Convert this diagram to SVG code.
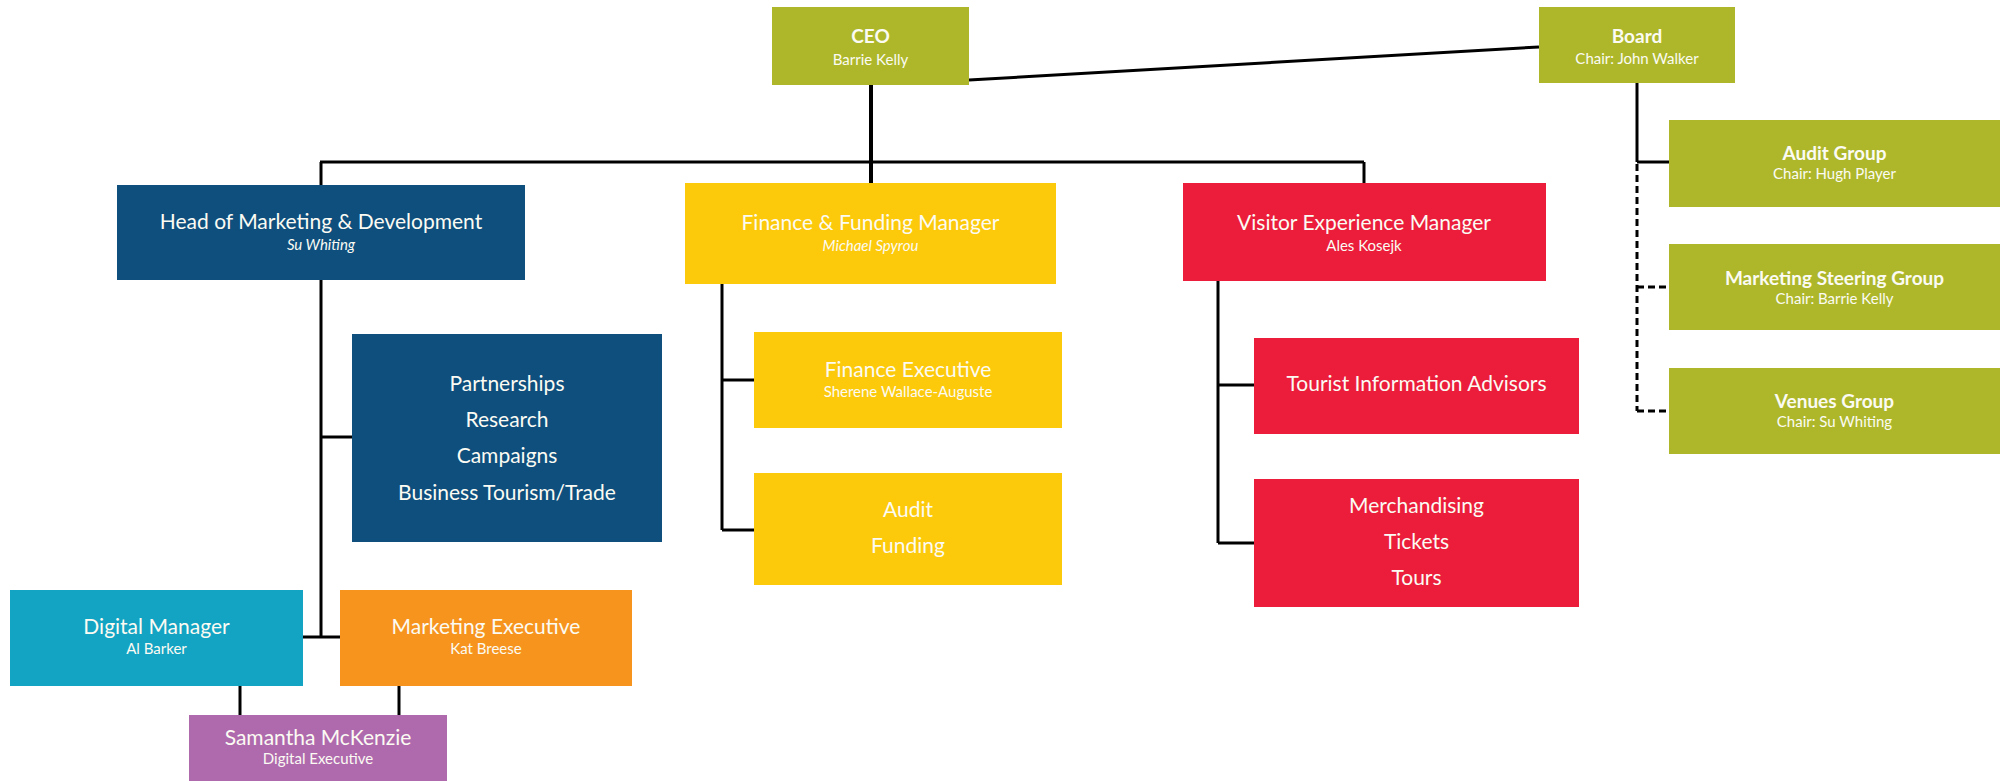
<svg xmlns="http://www.w3.org/2000/svg" width="2005" height="781" viewBox="0 0 2005 781">
<style>
text{font-family:Lato,"Liberation Sans",sans-serif;fill:#FBFBF3;text-anchor:middle}
.t{font-size:21px}
.s{font-size:15px}
.b{font-size:19px;font-weight:bold}
.i{font-style:italic}
.ln{stroke:#000;stroke-width:3;fill:none}
.dash{stroke-dasharray:7 4}
.olive{fill:#AEB72A}.navy{fill:#0E4F7E}.yellow{fill:#FDC90B}.red{fill:#EB1D3B}.teal{fill:#13A3C3}.orange{fill:#F7941E}.purple{fill:#AF6AAD}
</style>
<g id="connectors">
<line class="ln" x1="969" y1="80" x2="1539" y2="47"/>
<line class="ln" x1="871" y1="85" x2="871" y2="183" style="stroke-width:4"/>
<line class="ln" x1="320" y1="162" x2="1364" y2="162"/>
<line class="ln" x1="321" y1="162" x2="321" y2="185"/>
<line class="ln" x1="1364" y1="162" x2="1364" y2="183"/>
<line class="ln" x1="321" y1="280" x2="321" y2="637"/>
<line class="ln" x1="321" y1="437" x2="352" y2="437"/>
<line class="ln" x1="303" y1="637" x2="340" y2="637"/>
<line class="ln" x1="722" y1="284" x2="722" y2="530"/>
<line class="ln" x1="722" y1="380" x2="754" y2="380"/>
<line class="ln" x1="722" y1="530" x2="754" y2="530"/>
<line class="ln" x1="1218" y1="281" x2="1218" y2="543"/>
<line class="ln" x1="1218" y1="385" x2="1254" y2="385"/>
<line class="ln" x1="1218" y1="543" x2="1254" y2="543"/>
<line class="ln" x1="1637" y1="83" x2="1637" y2="162"/>
<line class="ln" x1="1637" y1="162" x2="1669" y2="162"/>
<line class="ln dash" x1="1637" y1="164" x2="1637" y2="411"/>
<line class="ln dash" x1="1637" y1="287" x2="1669" y2="287"/>
<line class="ln dash" x1="1637" y1="411" x2="1669" y2="411"/>
<line class="ln" x1="240" y1="686" x2="240" y2="715"/>
<line class="ln" x1="399" y1="686" x2="399" y2="715"/>
</g>
<g id="ceo">
<rect class="olive" x="772" y="7" width="197" height="78"/>
<text class="b" x="870.5" y="43">CEO</text>
<text class="s" x="870.5" y="65">Barrie Kelly</text>
</g>
<g id="board">
<rect class="olive" x="1539" y="7" width="196" height="76"/>
<text class="b" x="1637" y="43">Board</text>
<text class="s" x="1637" y="64">Chair: John Walker</text>
</g>
<g id="audit-group">
<rect class="olive" x="1669" y="120" width="331" height="87"/>
<text class="b" x="1834.5" y="160">Audit Group</text>
<text class="s" x="1834.5" y="179">Chair: Hugh Player</text>
</g>
<g id="marketing-steering-group">
<rect class="olive" x="1669" y="244" width="331" height="86"/>
<text class="b" x="1834.5" y="285">Marketing Steering Group</text>
<text class="s" x="1834.5" y="304">Chair: Barrie Kelly</text>
</g>
<g id="venues-group">
<rect class="olive" x="1669" y="368" width="331" height="86"/>
<text class="b" x="1834.5" y="408">Venues Group</text>
<text class="s" x="1834.5" y="427">Chair: Su Whiting</text>
</g>
<g id="head-marketing">
<rect class="navy" x="117" y="185" width="408" height="95"/>
<text class="t" x="321" y="229">Head of Marketing &amp; Development</text>
<text class="s i" x="321" y="250">Su Whiting</text>
</g>
<g id="marketing-areas">
<rect class="navy" x="352" y="334" width="310" height="208"/>
<text class="t" x="507" y="391">Partnerships</text>
<text class="t" x="507" y="427">Research</text>
<text class="t" x="507" y="463">Campaigns</text>
<text class="t" x="507" y="500">Business Tourism/Trade</text>
</g>
<g id="digital-manager">
<rect class="teal" x="10" y="590" width="293" height="96"/>
<text class="t" x="156.5" y="634">Digital Manager</text>
<text class="s" x="156.5" y="654">Al Barker</text>
</g>
<g id="marketing-executive">
<rect class="orange" x="340" y="590" width="292" height="96"/>
<text class="t" x="486" y="634">Marketing Executive</text>
<text class="s" x="486" y="654">Kat Breese</text>
</g>
<g id="digital-executive">
<rect class="purple" x="189" y="715" width="258" height="66"/>
<text class="t" x="318" y="745">Samantha McKenzie</text>
<text class="s" x="318" y="764">Digital Executive</text>
</g>
<g id="finance-manager">
<rect class="yellow" x="685" y="183" width="371" height="101"/>
<text class="t" x="870.5" y="230">Finance &amp; Funding Manager</text>
<text class="s i" x="870.5" y="251">Michael Spyrou</text>
</g>
<g id="finance-executive">
<rect class="yellow" x="754" y="332" width="308" height="96"/>
<text class="t" x="908" y="377">Finance Executive</text>
<text class="s" x="908" y="397">Sherene Wallace-Auguste</text>
</g>
<g id="audit-funding">
<rect class="yellow" x="754" y="473" width="308" height="112"/>
<text class="t" x="908" y="517">Audit</text>
<text class="t" x="908" y="553">Funding</text>
</g>
<g id="visitor-manager">
<rect class="red" x="1183" y="183" width="363" height="98"/>
<text class="t" x="1364" y="230">Visitor Experience Manager</text>
<text class="s" x="1364" y="251">Ales Kosejk</text>
</g>
<g id="tourist-info">
<rect class="red" x="1254" y="338" width="325" height="96"/>
<text class="t" x="1416.5" y="391">Tourist Information Advisors</text>
</g>
<g id="merchandising">
<rect class="red" x="1254" y="479" width="325" height="128"/>
<text class="t" x="1416.5" y="513">Merchandising</text>
<text class="t" x="1416.5" y="549">Tickets</text>
<text class="t" x="1416.5" y="585">Tours</text>
</g>
</svg>
